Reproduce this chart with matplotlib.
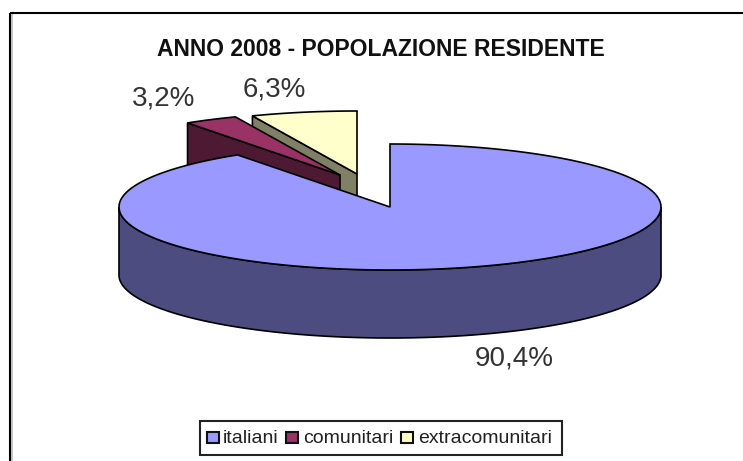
import numpy as np
import matplotlib
matplotlib.use('Agg')
import matplotlib.pyplot as plt
from matplotlib.patches import Polygon, Rectangle

plt.rcParams['font.family'] = ['Liberation Sans', 'DejaVu Sans']

# dati
titolo = 'ANNO 2008 - POPOLAZIONE RESIDENTE'
categorie = ['italiani', 'comunitari', 'extracomunitari']
valori = [90.4, 3.2, 6.3]
colori = ['#9999FF', '#993366', '#FFFFCC']
colori_lato = ['#4C4C80', '#4D1933', '#808066']

# geometria della torta, in pixel
rx, ry, spessore = 271, 63, 68
centri = [(390, 207), (340, 175), (357, 174)]
pos_etichette = [(514, 358), (164, 98), (274, 90)]

fig = plt.figure(figsize=(7.43, 4.61), dpi=100)
ax = fig.add_axes([0, 0, 1, 1])
ax.set_xlim(0, 743)
ax.set_ylim(461, 0)
ax.axis('off')


def punti_arco(c, a0, a1):
    # angoli in gradi, in senso orario partendo dalle ore 12
    t = np.radians(np.linspace(a0, a1, 200))
    return np.column_stack([c[0] + rx * np.sin(t), c[1] - ry * np.cos(t)])


fine = np.cumsum(valori) / np.sum(valori) * 360
inizio = np.concatenate([[0], fine[:-1]])

# cornice: solo lato sinistro e lato alto sono visibili
ax.plot([11.5, 11.5], [461, 14.5], color='#BBBBBB', lw=1.2, solid_capstyle='butt')
ax.plot([10, 10], [461, 13], color='black', lw=1.5, solid_capstyle='butt')
ax.plot([10, 743], [13, 13], color='black', lw=1.5, solid_capstyle='butt')

# prima le fette staccate, dalla piu lontana
for i in [2, 1]:
    c = centri[i]
    arco = punti_arco(c, inizio[i], fine[i])
    sx = arco[0]
    lato = [c, sx, (sx[0], sx[1] + spessore), (c[0], c[1] + spessore)]
    ax.add_patch(Polygon(lato, closed=True, fc=colori_lato[i], ec='black', lw=1.2, zorder=2 + (2 - i)))
    faccia = np.vstack([[c], arco])
    ax.add_patch(Polygon(faccia, closed=True, fc=colori[i], ec='black', lw=1.2, zorder=2 + (2 - i)))

# fetta grande: parete frontale e faccia superiore
c = centri[0]
davanti = punti_arco(c, 90, 270)
parete = np.vstack([davanti, (davanti + [0, spessore])[::-1]])
ax.add_patch(Polygon(parete, closed=True, fc=colori_lato[0], ec='black', lw=1.2, zorder=5))
faccia = np.vstack([[c], punti_arco(c, inizio[0], fine[0])])
ax.add_patch(Polygon(faccia, closed=True, fc=colori[0], ec='black', lw=1.2, zorder=6))

# etichette
for v, (x, y) in zip(valori, pos_etichette):
    testo = f'{v:.1f}%'.replace('.', ',')
    ax.text(x, y, testo, fontsize=20, color='#333333', ha='center', va='center', zorder=7)

ax.text(380.5, 49, titolo, fontsize=16.5, fontweight='bold', color='#111111', ha='center', va='center')

# legenda disegnata a mano per rispettare le posizioni
ax.add_patch(Rectangle((200, 421), 362, 34, fc='white', ec='#222222', lw=1.5, zorder=7))
pos_legenda = [(207, 223), (286, 303), (401, 418)]
for (xq, xt), nome, col in zip(pos_legenda, categorie, colori):
    ax.add_patch(Rectangle((xq, 432), 12, 11, fc=col, ec='#111111', lw=1.5, zorder=8))
    ax.text(xt, 438, nome, fontsize=14, color='#222222', ha='left', va='center', zorder=8)

fig.savefig('out.png', dpi=100)
